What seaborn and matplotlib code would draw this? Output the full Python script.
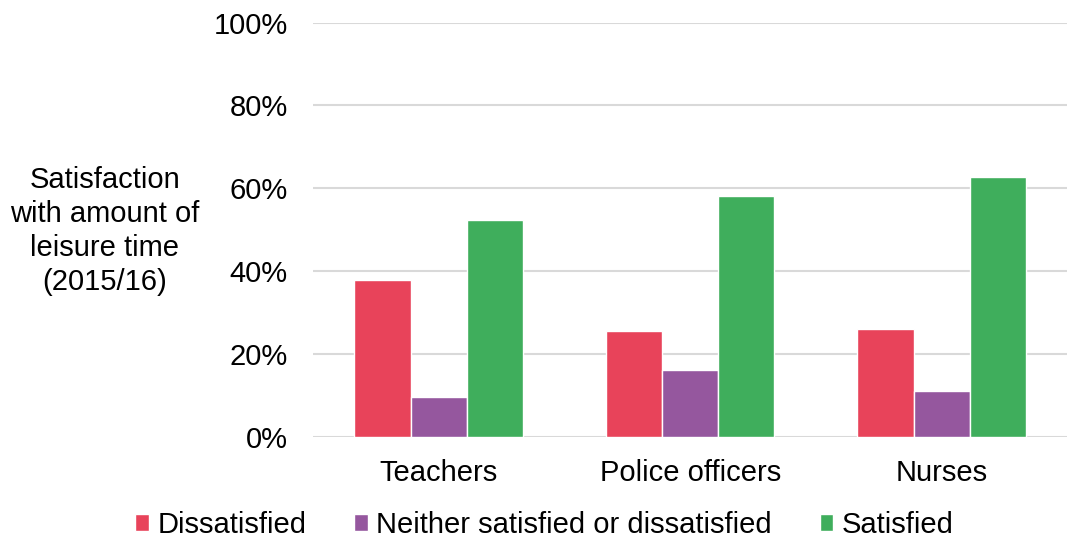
import numpy as np
import pandas as pd
import matplotlib
matplotlib.use("Agg")
import matplotlib.pyplot as plt
import seaborn as sn

# data
groups = ["Teachers", "Police officers", "Nurses"]
responses = ["Dissatisfied", "Neither satisfied or dissatisfied", "Satisfied"]
dissatisfied = [37.9, 25.6, 26.1]
neither = [9.6, 16.2, 11.1]
satisfied = [52.3, 58.2, 62.8]
colors = ["#E8435A", "#95579E", "#3FAE5C"]

df = pd.DataFrame({
    "Group": groups * 3,
    "Response": np.repeat(responses, 3),
    "Value": dissatisfied + neither + satisfied,
})

sn.set_style("white")
plt.rcParams["font.family"] = ["Liberation Sans", "DejaVu Sans"]
plt.rcParams["text.color"] = "black"
plt.rcParams["xtick.color"] = "black"
plt.rcParams["ytick.color"] = "black"

fs = 21
fig = plt.figure(figsize=(10.7, 5.41), dpi=100)
ax = fig.add_axes([0.2925, 0.193, 0.705, 0.765])

sn.barplot(data=df, x="Group", y="Value", hue="Response", palette=colors,
           width=0.67, gap=0, saturation=1, ax=ax, legend=True, zorder=3)

ax.set_ylim(0, 100)
ax.set_yticks(range(0, 101, 20))
ax.set_yticklabels([f"{v}%" for v in range(0, 101, 20)], fontsize=fs)
ax.tick_params(axis="x", labelsize=fs, length=0, pad=16)
ax.tick_params(axis="y", length=0, pad=18)
ax.grid(axis="y", color="#D9D9D9", linewidth=1.5, zorder=0)
ax.set_axisbelow(True)
for s in ax.spines.values():
    s.set_visible(False)
ax.set_xlabel("")
ax.set_ylabel("")
ax.set_xlim(-0.5, 2.5)

fig.text(0.098, 0.573, "Satisfaction\nwith amount of\nleisure time\n(2015/16)",
         ha="center", va="center", fontsize=fs, linespacing=1.28)

ax.legend(loc="center", bbox_to_anchor=(0.509, 0.03), bbox_transform=fig.transFigure,
          frameon=False, ncol=3, fontsize=fs, handlelength=0.45, handleheight=0.55,
          handletextpad=0.3, columnspacing=1.65, borderpad=0)

fig.savefig("out.png", dpi=100)
